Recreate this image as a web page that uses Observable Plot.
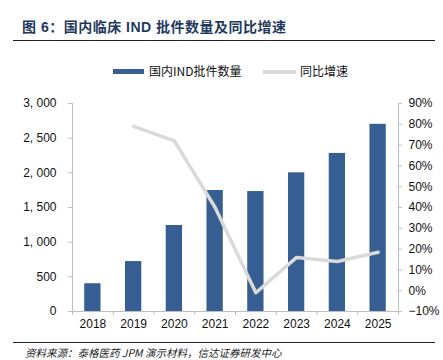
<!DOCTYPE html>
<html>
<head>
<meta charset="utf-8">
<script src="https://cdn.jsdelivr.net/npm/d3@7"></script>
<script src="https://cdn.jsdelivr.net/npm/@observablehq/plot@0.6"></script>
<style>
  html, body { margin: 0; padding: 0; background: #fff; }
  body { width: 443px; height: 360px; position: relative; overflow: hidden;
         font-family: "Liberation Sans", Arial, "Noto Sans CJK SC", sans-serif; }
  #title { position: absolute; left: 22px; top: 16px; font-size: 14px; font-weight: bold;
           color: #1f3a60; font-family: "Liberation Sans", "Noto Sans CJK SC", sans-serif; letter-spacing: 0.5px; white-space: nowrap; }
  #topline { position: absolute; left: 13px; width: 422px; top: 40px; height: 0; border-top: 1.5px solid #222; }
  #legend { position: absolute; top: 62px; left: 0; width: 443px; height: 18px; font-size: 12px; color: #111;
            font-family: "Noto Sans CJK SC", sans-serif; }
  .sw { position: absolute; }
  .lt { position: absolute; top: 0; line-height: 18px; white-space: nowrap; }
  #chart { position: absolute; left: 0; top: 90px; }
  #botline { position: absolute; left: 13px; width: 422px; top: 342px; height: 0; border-top: 1.5px solid #222; }
  #source { position: absolute; left: 25px; top: 346px; font-size: 10.5px; font-style: italic; color: #222;
            font-family: "Noto Sans CJK SC", sans-serif; white-space: nowrap; line-height: 13px; }
</style>
</head>
<body>
<div id="title">图 6：国内临床 IND 批件数量及同比增速</div>
<div id="topline"></div>
<div id="legend"></div>
<div id="chart"></div>
<div id="botline"></div>
<div id="source">资料来源：泰格医药 JPM 演示材料，信达证券研发中心</div>
<script>
const years = [2018, 2019, 2020, 2021, 2022, 2023, 2024, 2025];
const counts = [400, 720, 1240, 1745, 1730, 2000, 2280, 2700];
const growthYears = [2019, 2020, 2021, 2022, 2023, 2024, 2025];
const growth = [79, 72, 40, -1, 16, 14, 18.5];
const leftTicks = [0, 500, 1000, 1500, 2000, 2500, 3000];
const rightTicks = [-10, 0, 10, 20, 30, 40, 50, 60, 70, 80, 90];
const seriesNames = ["国内IND批件数量", "同比增速"];

const barColor = "#365e92";
const lineColor = "#dadada";
const axisColor = "#bfbfbf";

// map percent to left-axis units: -10% -> 0, 90% -> 3000
const pctToY = p => (p + 10) * 30;

const bars = years.map((y, i) => ({year: y, count: counts[i]}));
const line = growthYears.map((y, i) => ({year: y, pct: growth[i]}));
const boundaries = years.map(y => y - 0.5).concat([years[years.length - 1] + 0.5]);

const fmtLeft = d => d3.format(",")(d).replace(",", ", ");
const fmtRight = d => (d < 0 ? "−" + Math.abs(d) : d) + "%";

const plot = Plot.plot({
  width: 443,
  height: 250,
  marginLeft: 72,
  marginRight: 45,
  marginTop: 13,
  marginBottom: 29,
  x: {domain: [years[0] - 0.5, years[years.length - 1] + 0.5], label: null},
  y: {domain: [0, 3000], label: null},
  style: {fontFamily: "'Liberation Sans', Arial, sans-serif", fontSize: "12px", color: "#111", background: "#fff"},
  marks: [
    Plot.rectY(bars, {x1: d => d.year - 0.2, x2: d => d.year + 0.2, y1: 0, y2: "count", fill: barColor}),
    Plot.line(line, {x: "year", y: d => pctToY(d.pct), stroke: lineColor, strokeWidth: 3.5, strokeLinejoin: "round"}),
    Plot.ruleY([0], {stroke: axisColor, strokeWidth: 1}),
    Plot.ruleX([years[0] - 0.5, years[years.length - 1] + 0.5], {y1: 0, y2: 3000, stroke: axisColor, strokeWidth: 1}),
    Plot.axisX({ticks: boundaries, tickSize: 4, tickFormat: () => "", stroke: axisColor, label: null}),
    Plot.axisX({ticks: years, tickSize: 0, tickPadding: 8, tickFormat: d => String(d), fontSize: 12, fill: "#111", label: null}),
    Plot.axisY({anchor: "left", ticks: leftTicks, tickSize: 4, tickPadding: 12, tickFormat: fmtLeft, stroke: axisColor, fill: "#111", fontSize: 12, label: null}),
    Plot.axisY({anchor: "right", ticks: rightTicks.map(pctToY), tickSize: 3, tickPadding: 7,
      tickFormat: d => fmtRight(Math.round(d / 30 - 10)), stroke: axisColor, fill: "#111", fontSize: 12, label: null})
  ]
});
document.getElementById("chart").appendChild(plot);

// legend
const lg = document.getElementById("legend");
lg.innerHTML = `
  <div class="sw" style="left:113px;top:7px;width:31px;height:5px;background:${barColor}"></div>
  <div class="lt" style="left:149px">${seriesNames[0]}</div>
  <div class="sw" style="left:263px;top:7.5px;width:33px;height:4px;background:${lineColor}"></div>
  <div class="lt" style="left:300px">${seriesNames[1]}</div>`;
</script>
</body>
</html>
